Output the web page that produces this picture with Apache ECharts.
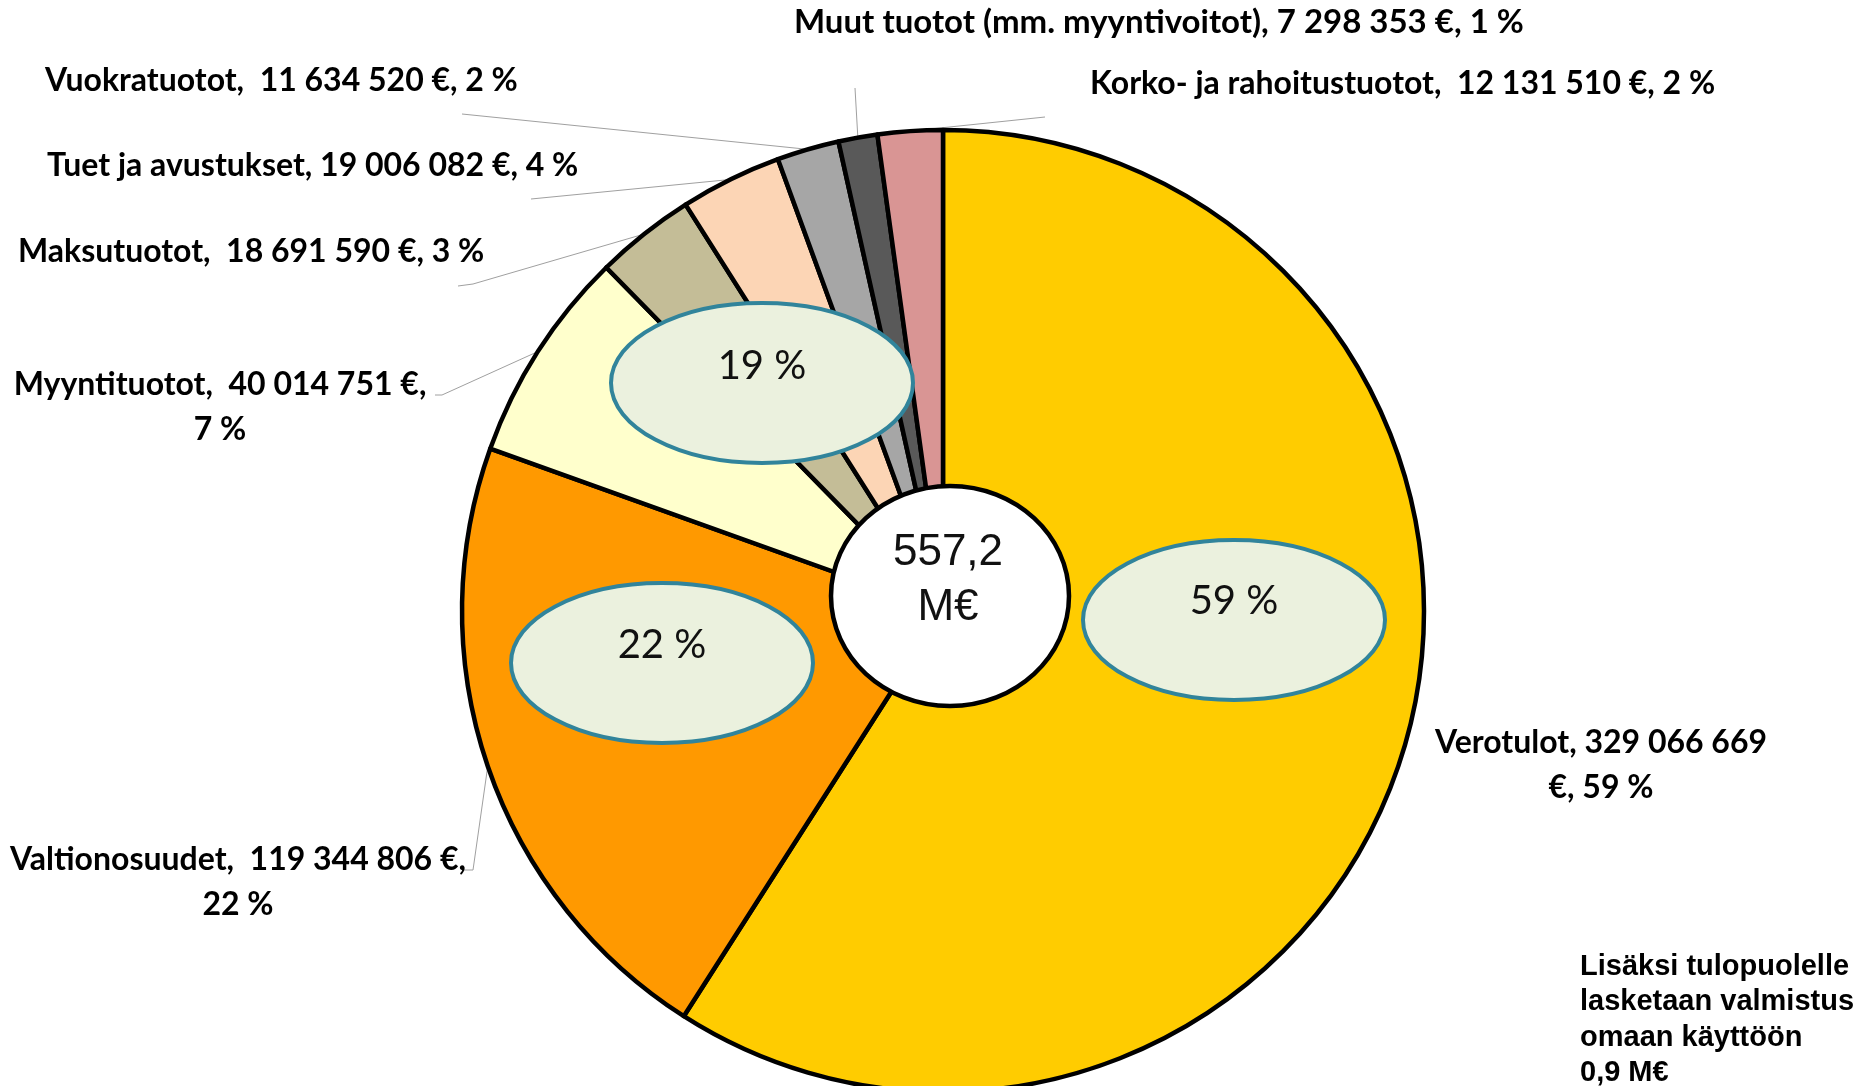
<!DOCTYPE html>
<html>
<head>
<meta charset="utf-8">
<script src="https://cdn.jsdelivr.net/npm/echarts@6/dist/echarts.min.js"></script>
<style>
  html, body { margin: 0; padding: 0; background: #fff; }
  #chart { width: 1875px; height: 1086px; }
</style>
</head>
<body>
<div id="chart"></div>
<script>
// ---- data ----
const categories = [
  'Verotulot', 'Valtionosuudet', 'Myyntituotot', 'Maksutuotot',
  'Tuet ja avustukset', 'Vuokratuotot', 'Muut tuotot (mm. myyntivoitot)', 'Korko- ja rahoitustuotot'
];
const values = [329066669, 119344806, 40014751, 18691590, 19006082, 11634520, 7298353, 12131510];
const percentLabels = ['59 %', '22 %', '7 %', '3 %', '4 %', '2 %', '1 %', '2 %'];
const colors = ['#FFCC00', '#FF9900', '#FFFFCC', '#C4BD97', '#FCD5B5', '#A6A6A6', '#595959', '#D99594'];
const labelTexts = [
  'Verotulot, 329 066 669\n€, 59 %',
  'Valtionosuudet,  119 344 806 €,\n22 %',
  'Myyntituotot,  40 014 751 €,\n7 %',
  'Maksutuotot,  18 691 590 €, 3 %',
  'Tuet ja avustukset, 19 006 082 €, 4 %',
  'Vuokratuotot,  11 634 520 €, 2 %',
  'Muut tuotot (mm. myyntivoitot), 7 298 353 €, 1 %',
  'Korko- ja rahoitustuotot,  12 131 510 €, 2 %'
];
const groupShares = ['59 %', '22 %', '19 %'];
const noteText = 'Lisäksi tulopuolelle\nlasketaan valmistus\nomaan käyttöön\n0,9 M€';

// ---- layout (positions only) ----
const labelPos = [
  { x: 1601, y: 765, align: 'center' },
  { x: 238, y: 882, align: 'center' },
  { x: 220, y: 407, align: 'center' },
  { x: 18, y: 252, align: 'left' },
  { x: 47, y: 166, align: 'left' },
  { x: 45, y: 81, align: 'left' },
  { x: 794, y: 22, align: 'left' },
  { x: 1090, y: 84, align: 'left' }
];
const labelSizes = [32, 32, 32, 32, 32, 32, 33, 32];
// label-side ends of leader lines: [corner, end]
const lineEnds = [
  null,
  [[473, 870], [464, 870]],
  [[442, 395], [435, 395]],
  [[473, 284], [458, 286]],
  [[531, 199], [531, 199]],
  [[462, 114], [462, 114]],
  [[855, 88], [855, 88]],
  [[1045, 117], [1045, 117]]
];

const total = values.reduce((a, b) => a + b, 0);
const totalText = (total / 1e6).toFixed(1).replace('.', ',') + '\nM€';

const chart = echarts.init(document.getElementById('chart'), null, { renderer: 'canvas' });

const ellipses = [
  { cx: 1234, cy: 620, ty: 601 },
  { cx: 662, cy: 663, ty: 645 },
  { cx: 762, cy: 383, ty: 366 }
];

const graphics = [];
ellipses.forEach((e, i) => {
  graphics.push({
    type: 'ellipse', z: 100,
    shape: { cx: e.cx, cy: e.cy, rx: 151, ry: 80 },
    style: { fill: '#EBF1DE', stroke: '#31849B', lineWidth: 4 }
  });
  graphics.push({
    type: 'text', z: 101,
    style: {
      text: groupShares[i], x: e.cx, y: e.ty, align: 'center', verticalAlign: 'middle',
      fontFamily: 'Lato', fontSize: 40, fill: '#111'
    }
  });
});
graphics.push({
  type: 'ellipse', z: 100,
  shape: { cx: 950, cy: 596, rx: 119, ry: 110 },
  style: { fill: '#fff', stroke: '#000', lineWidth: 4.5 }
});
graphics.push({
  type: 'text', z: 101,
  style: {
    text: totalText, x: 948, y: 580, align: 'center', verticalAlign: 'middle',
    fontFamily: 'Liberation Sans', fontSize: 44, lineHeight: 55, fill: '#111'
  }
});
graphics.push({
  type: 'text', z: 101,
  style: {
    text: noteText, x: 1580, y: 949, align: 'left', verticalAlign: 'top',
    fontFamily: 'Liberation Sans', fontWeight: 'bold', fontSize: 29, lineHeight: 35.5, fill: '#000'
  }
});

chart.setOption({
  animation: false,
  backgroundColor: '#fff',
  graphic: { elements: graphics },
  series: [{
    type: 'pie',
    center: [943, 611],
    radius: [0, 481],
    startAngle: 90,
    clockwise: true,
    avoidLabelOverlap: false,
    itemStyle: { borderColor: '#000', borderWidth: 4.5 },
    label: {
      show: true,
      position: 'outside',
      formatter: (p) => labelTexts[p.dataIndex],
      fontFamily: 'Lato', fontWeight: 'bold', fontSize: 32, lineHeight: 45, color: '#000'
    },
    labelLine: { show: true, length: 10, length2: 10, lineStyle: { color: '#A0A0A0', width: 1 } },
    labelLayout: function (params) {
      const i = params.dataIndex;
      const pos = labelPos[i];
      const res = { x: pos.x, y: pos.y, align: pos.align, verticalAlign: 'middle' };
      if (lineEnds[i] && params.labelLinePoints) {
        const p0 = params.labelLinePoints[0];
        res.labelLinePoints = [p0, lineEnds[i][0], lineEnds[i][1]];
      }
      return res;
    },
    emphasis: { disabled: true },
    data: categories.map((name, i) => ({
      name: name,
      value: values[i],
      itemStyle: { color: colors[i] },
      label: { fontSize: labelSizes[i] },
      labelLine: { show: i !== 0 }
    }))
  }]
});
</script>
</body>
</html>
